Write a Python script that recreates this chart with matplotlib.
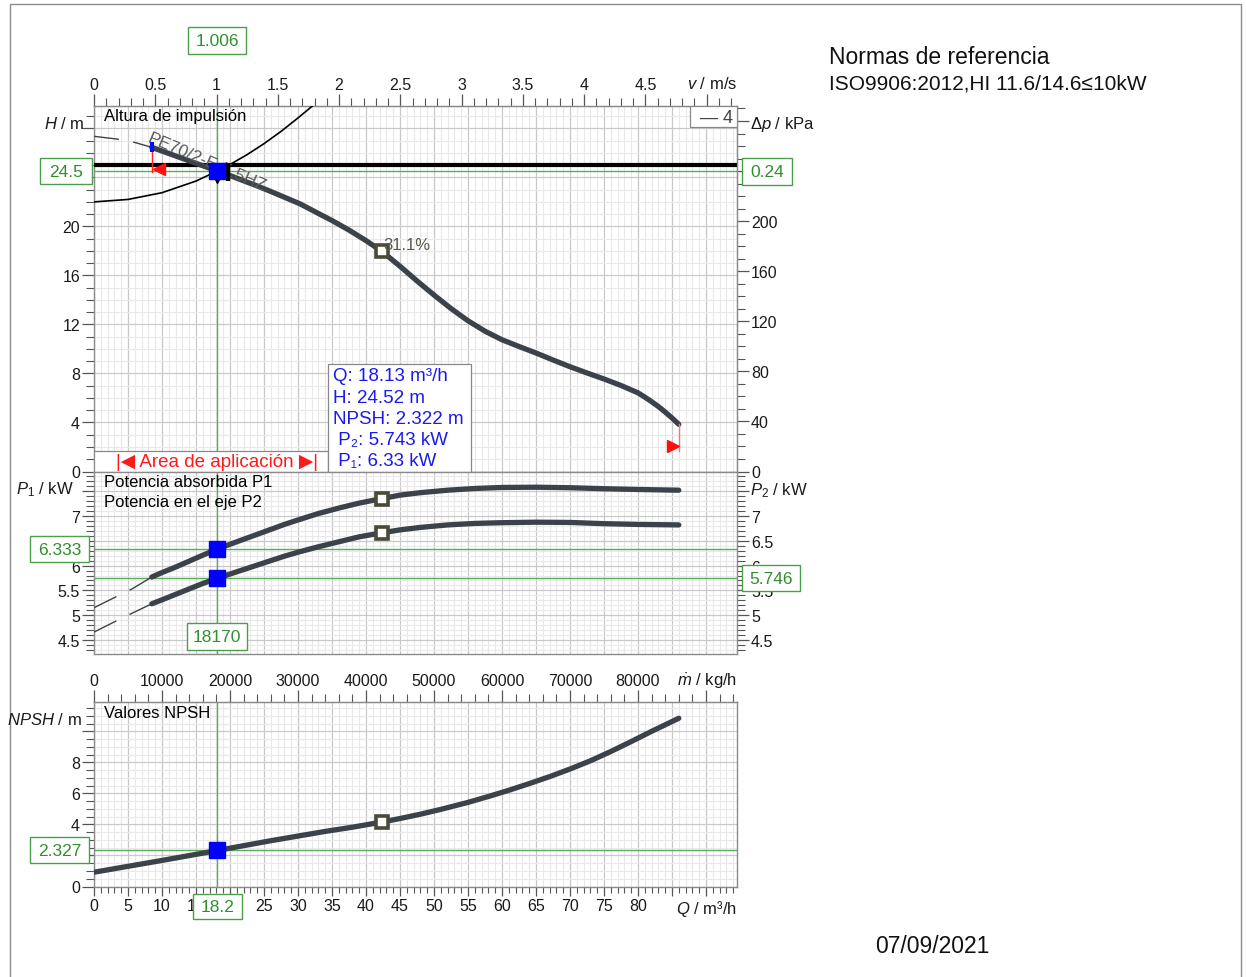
import matplotlib
matplotlib.use("Agg")
import matplotlib.pyplot as plt
from matplotlib.patches import Rectangle
from matplotlib.ticker import MultipleLocator, FuncFormatter

plt.rcParams['font.family'] = ['Liberation Sans', 'DejaVu Sans']
plt.rcParams['mathtext.fontset'] = 'custom'
plt.rcParams['mathtext.rm'] = 'Liberation Sans'
plt.rcParams['mathtext.it'] = 'Liberation Sans:italic'

# ---------------- data ----------------
# pump head curve (Q in m3/h, H in m)
q_head = [8.5, 10, 12, 14, 16, 18.13, 20, 22, 24, 26, 28, 30.3, 32.5, 35, 37.5, 40, 42.3, 45,
          47.5, 50, 52.5, 55, 57.5, 60, 62.5, 65, 67.5, 70, 72.5, 75, 77.5, 80, 81, 82, 83, 84, 85, 86]
head = [26.45, 26.15, 25.75, 25.35, 24.95, 24.52, 24.15, 23.72, 23.3, 22.85, 22.38, 21.84, 21.2,
        20.48, 19.7, 18.84, 17.98, 16.75, 15.55, 14.4, 13.3, 12.3, 11.45, 10.75, 10.2, 9.67, 9.1,
        8.55, 8.04, 7.55, 7.02, 6.42, 6.07, 5.7, 5.3, 4.85, 4.37, 3.85]
q_head_ext = [0, 3.8, 6.0, 8.5]
head_ext = [27.35, 27.1, 26.85, 26.45]

# system curve
q_sys = [0, 5, 10, 15, 18.13, 20, 22.5, 25, 27.5, 30, 32.5]
h_sys = [22.0, 22.2, 22.75, 23.7, 24.52, 25.05, 25.85, 26.75, 27.75, 28.85, 30.0]
h_limit = 25.0

# power curves (kW)
q_pow = [8.5, 10, 12, 14, 16, 18.13, 20, 22, 24, 26, 28, 30, 33, 36, 39, 42.3, 45, 48, 52, 56,
         60, 65, 70, 75, 80, 86]
p1 = [5.77, 5.86, 5.97, 6.09, 6.21, 6.333, 6.43, 6.53, 6.63, 6.73, 6.83, 6.92, 7.05, 7.16, 7.26,
      7.35, 7.42, 7.47, 7.52, 7.555, 7.575, 7.58, 7.57, 7.55, 7.535, 7.52]
p2 = [5.23, 5.31, 5.42, 5.53, 5.64, 5.743, 5.83, 5.92, 6.01, 6.10, 6.19, 6.27, 6.38, 6.48, 6.58,
      6.66, 6.72, 6.77, 6.82, 6.85, 6.865, 6.875, 6.87, 6.845, 6.83, 6.82]
q_pow_ext = [0, 3.5, 5.6, 8.5]
p1_ext = [5.15, 5.39, 5.53, 5.77]
p2_ext = [4.66, 4.90, 5.04, 5.23]

# NPSH curve (m)
q_npsh = [0, 5, 10, 15, 18.13, 22, 26, 30, 34, 38, 42.3, 45, 48, 51, 55, 58, 61, 64, 67, 70, 73,
          76, 79, 82, 84, 86]
npsh = [0.92, 1.30, 1.68, 2.07, 2.322, 2.63, 2.95, 3.25, 3.55, 3.82, 4.15, 4.38, 4.66, 4.97, 5.42,
        5.8, 6.2, 6.63, 7.08, 7.57, 8.1, 8.7, 9.34, 10.0, 10.42, 10.84]

# operating point
op_q, op_h, op_npsh, op_p2, op_p1 = 18.13, 24.52, 2.322, 5.743, 6.33
# cursor readings
cur_v, cur_h, cur_dp, cur_p1, cur_p2, cur_m, cur_npsh, cur_q = 1.006, 24.5, 0.24, 6.333, 5.746, 18170, 2.327, 18.2
# best efficiency point
bep_q, bep_h, bep_p1, bep_p2, bep_npsh, bep_eff = 42.3, 17.98, 7.35, 6.66, 4.15, 31.1
# application range
app_qmin, app_qmax = 8.5, 86.0

pump_name = "PE70/2-E-5.5HZ"

# ---------------- layout ----------------
W, HP, DPI = 1246, 978, 100
fig = plt.figure(figsize=(W / DPI, HP / DPI), dpi=DPI)


def frect(x0, y0, x1, y1):
    return [x0 / W, 1 - y1 / HP, (x1 - x0) / W, (y1 - y0) / HP]


def fxy(x, y):
    return x / W, 1 - y / HP


ax_h = fig.add_axes(frect(94, 107.3, 737, 472.5))
ax_p = fig.add_axes(frect(94, 472.5, 737, 655))
ax_n = fig.add_axes(frect(94, 703.3, 737, 887.5))

QMAX = 94.56
CURVE = '#3b4249'
GREEN_LINE = '#5aad5a'
GREEN_TXT = '#2f8f2f'
SPINE = '#8a8a8a'
TICK = '#555555'
TFS = 11.5
CURVE_KW = dict(color=CURVE, lw=3.8, solid_capstyle='round', solid_joinstyle='round', zorder=4)

for ax in (ax_h, ax_p, ax_n):
    ax.set_xlim(0, QMAX)
    ax.xaxis.set_major_locator(MultipleLocator(5))
    ax.xaxis.set_minor_locator(MultipleLocator(1))
    ax.grid(which='major', color='#c9c9c9', lw=0.9, zorder=0)
    ax.grid(which='minor', color='#e9e9e9', lw=0.8, zorder=0)
    ax.set_axisbelow(True)
    for s in ax.spines.values():
        s.set_color(SPINE)
        s.set_linewidth(1.0)
    ax.tick_params(which='both', colors=TICK, labelcolor='#1a1a1a', labelsize=TFS)
    ax.tick_params(axis='y', which='major', direction='out', length=8.5, width=0.9, pad=1.5)
    ax.tick_params(axis='y', which='minor', direction='out', length=5.5, width=0.8)

ax_h.set_ylim(0, 29.8)
ax_p.set_ylim(4.218, 7.897)
ax_n.set_ylim(0, 11.87)

ax_h.yaxis.set_major_locator(MultipleLocator(4))
ax_h.yaxis.set_minor_locator(MultipleLocator(1))
ax_p.yaxis.set_major_locator(MultipleLocator(0.5))
ax_p.yaxis.set_minor_locator(MultipleLocator(0.1))
ax_n.yaxis.set_major_locator(MultipleLocator(2))
ax_n.yaxis.set_minor_locator(MultipleLocator(0.5))


def labels_without(limit, skip=()):
    def fmt(v, p):
        if v > limit or any(abs(v - s) < 1e-6 for s in skip):
            return ''
        return f'{v:g}'
    return FuncFormatter(fmt)


# labels sitting under a value box are left out
ax_h.yaxis.set_major_formatter(labels_without(26, skip=(24,)))
ax_p.yaxis.set_major_formatter(labels_without(7.2))
ax_n.yaxis.set_major_formatter(labels_without(9, skip=(2,)))

for ax in (ax_h, ax_p):
    ax.tick_params(axis='x', which='both', bottom=False, labelbottom=False)

ax_p.tick_params(axis='y', which='both', right=True, labelright=True)

# bottom Q axis
ax_n.tick_params(axis='x', which='major', direction='out', length=6.5, width=0.9, pad=2)
ax_n.tick_params(axis='x', which='minor', direction='out', length=4.3, width=0.8)
ax_n.xaxis.set_major_formatter(labels_without(82, skip=(20,)))

# top velocity axis
sec_v = ax_h.secondary_xaxis('top', functions=(lambda q: q / 18.02, lambda v: v * 18.02))
sec_v.xaxis.set_major_locator(MultipleLocator(0.5))
sec_v.xaxis.set_minor_locator(MultipleLocator(0.1))
sec_v.xaxis.set_major_formatter(labels_without(4.8))
sec_v.tick_params(which='major', length=9, width=0.9, pad=1.5, colors=TICK, labelcolor='#1a1a1a', labelsize=TFS)
sec_v.tick_params(which='minor', length=5.5, width=0.8, colors=TICK)
sec_v.spines['top'].set_color(SPINE)

# right pressure axis
sec_dp = ax_h.secondary_yaxis('right', functions=(lambda h: h * 9.79, lambda k: k / 9.79))
sec_dp.yaxis.set_major_locator(MultipleLocator(40))
sec_dp.yaxis.set_minor_locator(MultipleLocator(10))
sec_dp.yaxis.set_major_formatter(labels_without(220))
sec_dp.tick_params(which='major', length=8.5, width=0.9, pad=1.5, colors=TICK, labelcolor='#1a1a1a', labelsize=TFS)
sec_dp.tick_params(which='minor', length=5.5, width=0.8, colors=TICK)
sec_dp.spines['right'].set_color(SPINE)

# mass flow axis
sec_m = ax_n.secondary_xaxis('top', functions=(lambda q: q * 1000.0, lambda m: m / 1000.0))
sec_m.xaxis.set_major_locator(MultipleLocator(10000))
sec_m.xaxis.set_minor_locator(MultipleLocator(2000))
sec_m.xaxis.set_major_formatter(labels_without(85000))
sec_m.tick_params(which='major', length=9, width=0.9, pad=1.5, colors=TICK, labelcolor='#1a1a1a', labelsize=TFS)
sec_m.tick_params(which='minor', length=5.5, width=0.8, colors=TICK)
sec_m.spines['top'].set_color(SPINE)

# ---------------- head panel ----------------
dash = (0, (18, 10.5))
ax_h.axhline(h_limit, color='black', lw=3.0, zorder=3)
ax_h.axhline(cur_h, color=GREEN_LINE, lw=1.0, zorder=2)
ax_h.axvline(op_q, color=GREEN_LINE, lw=1.0, zorder=2)
ax_h.plot(q_sys, h_sys, color='black', lw=1.2, zorder=3)
ax_h.plot(q_head_ext, head_ext, color=CURVE, lw=1.0, linestyle=dash, zorder=3)
ax_h.plot(q_head, head, **CURVE_KW)

# application limits
ax_h.plot([app_qmin, app_qmin], [24.45, 26.1], color='#ff2020', lw=1.0, zorder=5)
ax_h.plot([app_qmin + 1.1], [24.69], marker='<', color='#ff1010', ms=8, zorder=6)
ax_h.plot([app_qmin], [head[0]], marker='|', color='#0010ff', ms=7.5, mew=3, zorder=6)
ax_h.plot([app_qmax, app_qmax], [1.67, head[-1]], color='#ff7070', lw=1.0, zorder=5)
ax_h.plot([app_qmax - 0.85], [2.12], marker='>', color='#ff1010', ms=8, zorder=6)

ax_h.text(7.7, 26.95, pump_name, rotation=-23, rotation_mode='anchor', ha='left', va='baseline',
          fontsize=12.5, color='#5a5a5a', zorder=4)

ax_h.plot([19.7], [24.4], marker='|', color='black', ms=13, mew=3.2, zorder=7)
ax_h.plot([op_q], [23.8], marker='v', color='black', ms=4, zorder=7)
ax_h.plot([op_q], [op_h], marker='s', color='#0000ff', ms=11, zorder=8)

ax_h.plot([bep_q], [bep_h], marker='s', ms=8.5, mfc='white', mec='#4a4a38', mew=2.6, zorder=8)
ax_h.text(bep_q + 0.2, bep_h + 0.15, f'{bep_eff}%', fontsize=12, color='#5a5a4a', ha='left',
          va='baseline', zorder=8)

ax_h.text(0.0156, 0.976, 'Altura de impulsión', transform=ax_h.transAxes, fontsize=12,
          va='center', ha='left', zorder=6)

# legend box
ax_h.add_patch(Rectangle((87.65, 28.08), QMAX - 87.65, 1.72, facecolor='white', edgecolor='#888888',
                         lw=0.9, zorder=9))
ax_h.text(94.0, 28.92, '— 4', fontsize=13, color='#444444', ha='right', va='center', zorder=10)

# application range bar
ax_h.add_patch(Rectangle((0, 0), 34.4, 1.67, facecolor='white', edgecolor='#888888', lw=0.9, zorder=9))
ax_h.text(18.1, 0.80, '|◀ Area de aplicación ▶|', fontsize=13.5, color='#ff1a1a', ha='center',
          va='center', zorder=10)

# operating point info box
ax_h.add_patch(Rectangle((34.4, 0), 21.0, 8.78, facecolor='white', edgecolor='#888888', lw=0.9, zorder=9))
info = [f'Q: {op_q:.2f} m³/h', f'H: {op_h:.2f} m', f'NPSH: {op_npsh:.3f} m',
        f' P₂: {op_p2:.3f} kW', f' P₁: {op_p1:.2f} kW']
for i, line in enumerate(info):
    ax_h.text(35.1, 7.8 - i * 1.735, line, fontsize=13.5, color='#1a1aee', ha='left', va='center',
              zorder=10)

# ---------------- power panel ----------------
ax_p.axhline(cur_p1, color=GREEN_LINE, lw=1.0, zorder=2)
ax_p.axhline(cur_p2, color=GREEN_LINE, lw=1.0, zorder=2)
ax_p.axvline(op_q, color=GREEN_LINE, lw=1.0, zorder=2)
ax_p.plot(q_pow_ext, p1_ext, color=CURVE, lw=1.0, linestyle=dash, zorder=3)
ax_p.plot(q_pow_ext, p2_ext, color=CURVE, lw=1.0, linestyle=dash, zorder=3)
ax_p.plot(q_pow, p1, **CURVE_KW)
ax_p.plot(q_pow, p2, **CURVE_KW)
ax_p.plot([op_q, op_q], [op_p1, op_p2], ls='none', marker='s', color='#0000ff', ms=11, zorder=8)
ax_p.plot([bep_q, bep_q], [bep_p1, bep_p2], ls='none', marker='s', ms=8.5, mfc='white',
          mec='#4a4a38', mew=2.6, zorder=8)
ax_p.text(0.0156, 0.9425, 'Potencia absorbida P1', transform=ax_p.transAxes, fontsize=12,
          va='center', ha='left', zorder=6)
ax_p.text(0.0156, 0.833, 'Potencia en el eje P2', transform=ax_p.transAxes, fontsize=12,
          va='center', ha='left', zorder=6)

# ---------------- NPSH panel ----------------
ax_n.axhline(cur_npsh, color=GREEN_LINE, lw=1.0, zorder=2)
ax_n.axvline(op_q, color=GREEN_LINE, lw=1.0, zorder=2)
ax_n.plot(q_npsh, npsh, **CURVE_KW)
ax_n.plot([op_q], [op_npsh], marker='s', color='#0000ff', ms=11, zorder=8)
ax_n.plot([bep_q], [bep_npsh], marker='s', ms=8.5, mfc='white', mec='#4a4a38', mew=2.6, zorder=8)
ax_n.text(0.0156, 0.942, 'Valores NPSH', transform=ax_n.transAxes, fontsize=12,
          va='center', ha='left', zorder=6)

# ---------------- axis unit labels ----------------
ulab = dict(fontsize=12, color='#1a1a1a', va='center')
fig.text(*fxy(85, 124), r'$H$ / m', ha='right', **ulab)
fig.text(*fxy(750, 124), r'Δ$p$ / kPa', ha='left', **ulab)
fig.text(*fxy(737, 84), r'$v$ / m/s', ha='right', **ulab)
fig.text(*fxy(74, 490), r'$P_1$ / kW', ha='right', **ulab)
fig.text(*fxy(750, 491), r'$P_2$ / kW', ha='left', **ulab)
fig.text(*fxy(737, 681), r'$\dot{m}$ / kg/h', ha='right', **ulab)
fig.text(*fxy(82, 720), r'$NPSH$ / m', ha='right', **ulab)
fig.text(*fxy(737, 909), r'$Q$ / m³/h', ha='right', **ulab)


# ---------------- cursor value boxes ----------------
def green_box(text, cx, cy, w, h):
    # cx, cy in display pixels (origin at bottom-left)
    fig.patches.append(Rectangle(((cx - w / 2) / W, (cy - h / 2) / HP), w / W, h / HP,
                                 transform=fig.transFigure, facecolor='white',
                                 edgecolor='#4aa04a', lw=1.0, zorder=20))
    fig.text(cx / W, cy / HP, text, ha='center', va='center', fontsize=12.5,
             color=GREEN_TXT, zorder=21)


def disp(ax, x, y):
    return ax.transData.transform((x, y))


xq = disp(ax_h, op_q, 0)[0]
green_box(f'{cur_v:.3f}', xq, HP - 41.5, 58, 27)
green_box(f'{cur_h:g}', 66, disp(ax_h, 0, cur_h)[1], 52, 26)
green_box(f'{cur_dp:g}', 767, disp(ax_h, 0, cur_h)[1], 50, 27)
green_box(f'{cur_p1:.3f}', 59.5, disp(ax_p, 0, cur_p1)[1], 59, 26)
green_box(f'{cur_p2:.3f}', 771, disp(ax_p, 0, cur_p2)[1], 58, 26)
green_box(f'{cur_m}', xq, HP - 637.5, 60, 27)
green_box(f'{cur_npsh:.3f}', 59.5, disp(ax_n, 0, cur_npsh)[1], 59, 26)
green_box(f'{cur_q:g}', xq, HP - 907.5, 49, 25)

# ---------------- page decorations ----------------
fig.patches.append(Rectangle((10 / W, -0.02), (1241 - 10) / W, 1.02 - 5 / HP,
                             transform=fig.transFigure, fill=False, edgecolor='#8c8c8c', lw=1.0))
fig.text(*fxy(829, 57), 'Normas de referencia', fontsize=16.5, va='center', ha='left', color='#111111')
fig.text(*fxy(829, 84), 'ISO9906:2012,HI 11.6/14.6≤10kW', fontsize=15, va='center', ha='left',
         color='#111111')
fig.text(*fxy(875, 947), '07/09/2021', fontsize=16.5, va='center', ha='left', color='#111111')

fig.savefig('out.png', dpi=DPI)
